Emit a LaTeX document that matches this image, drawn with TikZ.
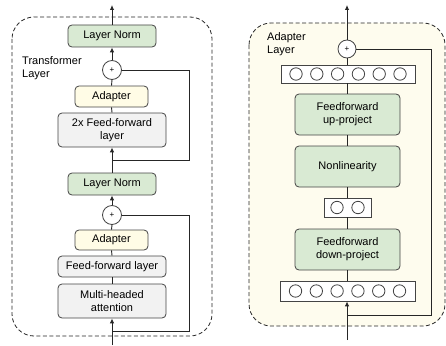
\documentclass[tikz,border=0pt]{standalone}
\usepackage{fontspec}
\setmainfont{Liberation Sans}
\usetikzlibrary{arrows.meta}

\definecolor{boxline}{HTML}{444444}
\definecolor{normgreen}{HTML}{D9EAD3}
\definecolor{adaptyellow}{HTML}{FFFCE6}
\definecolor{ffgray}{HTML}{F2F2F2}
\definecolor{panelyellow}{HTML}{FEFCEE}

\tikzset{
  layerbox/.style={draw=boxline, line width=0.8pt, rounded corners=4pt, align=center,
    font=\fontsize{11}{13}\selectfont, inner sep=0pt},
  normbox/.style={layerbox, fill=normgreen, minimum width=88, minimum height=22},
  adaptbox/.style={layerbox, fill=adaptyellow, minimum width=73, minimum height=21},
  ffbox/.style={layerbox, fill=ffgray, minimum width=108},
  projbox/.style={layerbox, fill=normgreen, minimum width=105, minimum height=41},
  barbox/.style={draw=boxline, line width=0.8pt, fill=white, minimum height=19, inner sep=0pt},
  plusnode/.style={circle, draw=boxline, line width=0.8pt, fill=white, minimum size=19, inner sep=0pt,
    font=\fontsize{8}{8}\selectfont},
  flow/.style={draw=black!85, line width=0.9pt},
  tip/.style={flow, -{Latex[length=5pt,width=4.5pt]}},
  frame/.style={draw=black!85, line width=0.8pt, dashed, dash pattern=on 4pt off 2.5pt, rounded corners=22pt}
}

\begin{document}
\begin{tikzpicture}[x=1pt,y=-1pt]
\useasboundingbox (0,0) rectangle (446,345);

% frames
\draw[frame] (12,17) rectangle (212,336);
\draw[frame, fill=panelyellow] (249,23) rectangle (445,326);

% transformer layer
\node[anchor=north west, align=left, font=\fontsize{11}{13}\selectfont, inner sep=0pt] (tlabel) at (22,56) {Transformer\\Layer};

\node[normbox] (normTop) at (112,36) {Layer Norm};
\node[plusnode] (plusTop) at (112,70) {+};
\node[adaptbox] (adTop) at (111.5,96.5) {Adapter};
\node[ffbox, minimum height=34] (ffTop) at (112,130) {2x Feed-forward\\layer};
\node[normbox] (normBot) at (112,184) {Layer Norm};
\node[plusnode] (plusBot) at (112,215) {+};
\node[adaptbox, minimum height=20] (adBot) at (111.5,240) {Adapter};
\node[ffbox, minimum height=21] (ffBot) at (112,266.5) {Feed-forward layer};
\node[ffbox, minimum height=34] (att) at (112,301) {Multi-headed\\attention};

\coordinate (outL) at (112,5);
\coordinate (inL) at (112,345);
\coordinate (joinTop) at (112,160);
\coordinate (joinBot) at (112,331);

\draw[tip] (normTop.north) -- (outL);
\draw[tip] (plusTop.north) -- (normTop.south);
\draw[flow] (adTop.north) -- (plusTop.south);
\draw[flow] (ffTop.north) -- (adTop.south);
\draw[tip] (normBot.north) -- (ffTop.south);
\draw[flow] (plusTop.east) -- (189,70) -- (189,160) -- (joinTop);
\draw[tip] (plusBot.north) -- (normBot.south);
\draw[flow] (adBot.north) -- (plusBot.south);
\draw[flow] (ffBot.north) -- (adBot.south);
\draw[flow] (att.north) -- (ffBot.south);
\draw[tip] (inL) -- (att.south);
\draw[flow] (plusBot.east) -- (189,215) -- (189,331) -- (joinBot);

% adapter layer
\node[anchor=north west, align=left, font=\fontsize{11}{13}\selectfont, inner sep=0pt] (alabel) at (267,32) {Adapter\\Layer};

\node[plusnode, minimum size=18] (plusAd) at (347,49) {+};
\node[barbox, minimum width=134, minimum height=18] (barTop) at (348,74) {};
\node[projbox] (up) at (347.5,114.5) {Feedforward\\up-project};
\node[projbox] (nonlin) at (347.5,166.5) {Nonlinearity};
\node[barbox, minimum width=47] (barMid) at (347.5,207.5) {};
\node[projbox] (down) at (347.5,249.5) {Feedforward\\down-project};
\node[barbox, minimum width=135, minimum height=20] (barBot) at (347.5,291) {};

\foreach \dx in {-52,-31.2,-10.4,10.4,31.2,52} {
  \draw[boxline, line width=0.8pt] ([xshift=\dx]barTop.center) circle (6.2);
  \draw[boxline, line width=0.8pt] ([xshift=\dx]barBot.center) circle (6.2);
}
\foreach \dx in {-10.5,10.5}
  \draw[boxline, line width=0.8pt] ([xshift=\dx]barMid.center) circle (6.2);

\coordinate (outR) at (347,5);
\coordinate (inR) at (347,340);
\coordinate (joinR) at (347,315);

\draw[tip] (plusAd.north) -- (outR);
\draw[flow] (barTop.north -| plusAd) -- (plusAd.south);
\draw[flow] (up.north) -- (barTop.south -| up);
\draw[flow] (nonlin.north) -- (up.south);
\draw[flow] (barMid.north) -- (nonlin.south);
\draw[flow] (down.north) -- (barMid.south);
\draw[flow] (barBot.north) -- (down.south);
\draw[tip] (inR) -- (barBot.south -| inR);
\draw[flow] (plusAd.east) -- (431,49) -- (431,315) -- (joinR);

\end{tikzpicture}
\end{document}
